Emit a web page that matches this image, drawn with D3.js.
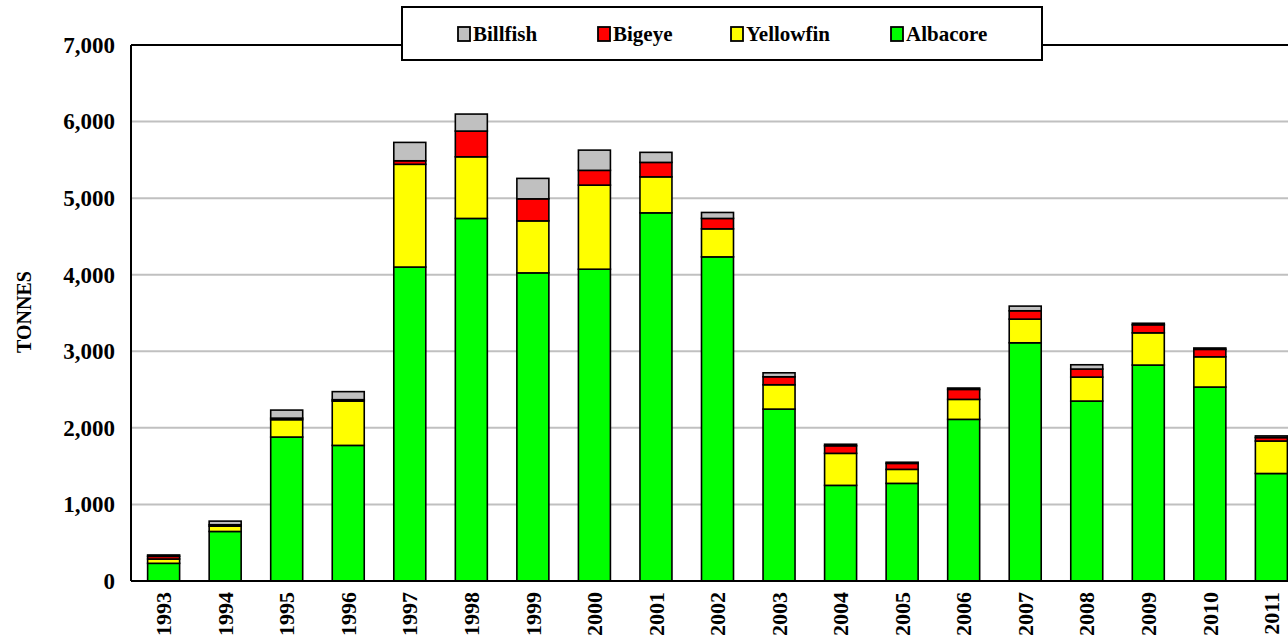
<html>
<head>
  <meta charset="utf-8">
  <script src="https://d3js.org/d3.v7.min.js"></script>
  <style>
    body { margin: 0; background: #fff; }
    text { font-family: "Liberation Serif", "Times New Roman", serif; font-weight: bold; }
  </style>
</head>
<body>
<svg id="chart" width="1288" height="644"></svg>
<script>
  var years = ["1993","1994","1995","1996","1997","1998","1999","2000","2001","2002",
               "2003","2004","2005","2006","2007","2008","2009","2010","2011"];
  var albacore  = [231, 647, 1880, 1771, 4100, 4735, 4024, 4072, 4808, 4233, 2245, 1249, 1275, 2111, 3111, 2350, 2820, 2533, 1404];
  var yellowfin = [ 56,  69,  227,  579, 1342,  805,  679, 1098,  470,  366,  318,  418,  183,  261,  309,  313,  421,  395,  424];
  var bigeye    = [ 35,  19,   20,   18,   46,  336,  288,  193,  189,  136,  104,   99,   78,  130,  109,  105,  105,   97,   45];
  var billfish  = [ 18,  47,  105,  105,  240,  222,  267,  264,  131,   78,   52,   20,   15,   18,   61,   56,   20,   18,   22];

  var seriesNames = ["Albacore", "Yellowfin", "Bigeye", "Billfish"];
  var colours = { Albacore: "#00ff00", Yellowfin: "#ffff00", Bigeye: "#ff0000", Billfish: "#c0c0c0" };
  var yTicks = [0, 1000, 2000, 3000, 4000, 5000, 6000, 7000];

  var rows = years.map(function(y, i) {
    return { year: y, Albacore: albacore[i], Yellowfin: yellowfin[i], Bigeye: bigeye[i], Billfish: billfish[i] };
  });

  var svg = d3.select("#chart");
  var plotLeft = 131, plotTop = 45, plotBottom = 581, plotRight = 1288;

  var x = d3.scaleBand().domain(years).range([plotLeft, 1304]).paddingInner(0.48).paddingOuter(0.27);
  var y = d3.scaleLinear().domain([0, 7000]).range([plotBottom, plotTop]);

  // gridlines
  svg.append("g").selectAll("line").data(yTicks.filter(function(d) { return d > 0 && d < 7000; }))
    .enter().append("line")
    .attr("x1", plotLeft).attr("x2", plotRight)
    .attr("y1", function(d) { return y(d); }).attr("y2", function(d) { return y(d); })
    .attr("stroke", "#c0c0c0").attr("stroke-width", 2);

  // stacked bars
  var stack = d3.stack().keys(seriesNames)(rows);
  svg.append("g").selectAll("g").data(stack).enter().append("g")
    .attr("fill", function(s) { return colours[s.key]; })
    .selectAll("rect").data(function(s) { return s; }).enter().append("rect")
    .attr("x", function(d) { return x(d.data.year); })
    .attr("width", x.bandwidth())
    .attr("y", function(d) { return y(d[1]); })
    .attr("height", function(d) { return y(d[0]) - y(d[1]); })
    .attr("stroke", "#000").attr("stroke-width", 1.6);

  // frame
  svg.append("line").attr("x1", plotLeft).attr("x2", plotRight).attr("y1", plotTop).attr("y2", plotTop)
    .attr("stroke", "#000").attr("stroke-width", 2);
  svg.append("line").attr("x1", plotLeft).attr("x2", plotLeft).attr("y1", plotTop).attr("y2", plotBottom)
    .attr("stroke", "#000").attr("stroke-width", 2);
  svg.append("line").attr("x1", plotLeft).attr("x2", plotRight).attr("y1", plotBottom).attr("y2", plotBottom)
    .attr("stroke", "#000").attr("stroke-width", 2);

  // y axis labels
  var yAxis = svg.append("g").attr("transform", "translate(" + (plotLeft - 1) + ",0)")
    .call(d3.axisLeft(y).tickValues(yTicks).tickSize(0).tickPadding(15).tickFormat(d3.format(",")));
  yAxis.select(".domain").remove();
  yAxis.selectAll("text").style("font-size", "23px").attr("fill", "#000")
    .style("font-family", "'Liberation Serif', serif").style("font-weight", "bold");

  // x axis labels
  var xAxis = svg.append("g").attr("transform", "translate(0," + plotBottom + ")")
    .call(d3.axisBottom(x).tickSize(0).tickPadding(0));
  xAxis.select(".domain").remove();
  xAxis.selectAll("text")
    .attr("transform", "rotate(-90)")
    .attr("x", -11).attr("y", 0).attr("dy", "0.35em")
    .style("text-anchor", "end").style("font-size", "22px").attr("fill", "#000")
    .style("font-family", "'Liberation Serif', serif").style("font-weight", "bold");

  // y title
  svg.append("text").attr("transform", "translate(31,312) rotate(-90)")
    .attr("text-anchor", "middle").style("font-size", "20px").text("TONNES");

  // legend
  var legend = svg.append("g");
  legend.append("rect").attr("x", 402).attr("y", 7).attr("width", 640).attr("height", 53)
    .attr("fill", "#fff").attr("stroke", "#000").attr("stroke-width", 2);
  var legendItems = ["Billfish", "Bigeye", "Yellowfin", "Albacore"];
  var legendX = [458, 598, 731, 891];
  legendItems.forEach(function(name, i) {
    legend.append("rect").attr("x", legendX[i]).attr("y", 27).attr("width", 12).attr("height", 14)
      .attr("fill", colours[name]).attr("stroke", "#000").attr("stroke-width", 1.8);
    legend.append("text").attr("x", legendX[i] + 15).attr("y", 41)
      .style("font-size", "21px").text(name);
  });
</script>
</body>
</html>
